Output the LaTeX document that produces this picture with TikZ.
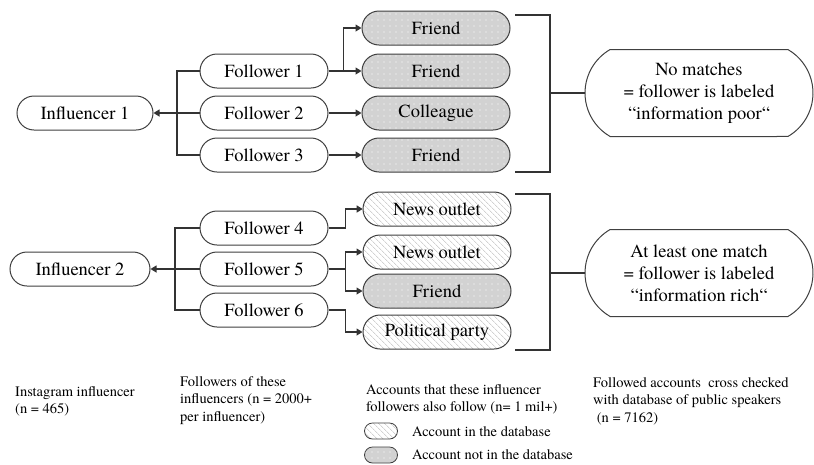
\documentclass[tikz,border=0pt]{standalone}
\usepackage{fontspec}
\IfFontExistsTF{texgyretermes-regular.otf}
  {\setmainfont{texgyretermes-regular.otf}}
  {\setmainfont{Liberation Serif}}
\usetikzlibrary{shapes.misc,arrows.meta,patterns.meta}

\begin{document}
\begin{tikzpicture}[x=1pt,y=-1pt,
    box/.style={rounded rectangle,draw=black!75,line width=1pt,minimum height=34pt,
      inner sep=0pt,font=\rmfamily\fontsize{18.5}{22}\selectfont},
    person/.style={box,minimum width=128pt},
    friendbox/.style={box,minimum width=148pt,preaction={fill=gray!35},
      pattern={Dots[distance=6pt,radius=0.6pt]},pattern color=white},
    newsbox/.style={box,minimum width=148pt,
      pattern={Lines[angle=-45,distance=4pt,line width=0.6pt]},pattern color=gray!55},
    outcome/.style={box,rounded rectangle arc length=120,minimum width=228pt,
      minimum height=87pt,align=center},
    link/.style={draw=black!80,line width=1.1pt},
    arr/.style={link,-{Triangle[length=6pt,width=7pt]}},
    note/.style={anchor=north west,inner sep=0pt,align=left,
      font=\rmfamily\fontsize{14.5}{17.5}\selectfont}]

  % Canvas
  \fill[white] (0,0) rectangle (814,464);
  \useasboundingbox (0,0) rectangle (814,464);

  % Influencer 1 and followers
  \node[box,minimum width=136pt] (inf1) at (85,113) {Influencer 1};
  \node[person] (f1) at (264,71) {Follower 1};
  \node[person] (f2) at (264,113) {Follower 2};
  \node[person] (f3) at (264,155) {Follower 3};
  \node[friendbox] (a1) at (436,28) {Friend};
  \node[friendbox] (a2) at (436,71) {Friend};
  \node[friendbox] (a3) at (436,113) {Colleague};
  \node[friendbox] (a4) at (436,155) {Friend};
  \node[outcome] (out1) at (699,93)
    {No matches\\= follower is labeled\\“information poor“};

  % Influencer 2 and followers
  \node[box,minimum width=140pt] (inf2) at (80,269) {Influencer 2};
  \node[person] (f4) at (264,228) {Follower 4};
  \node[person] (f5) at (264,269) {Follower 5};
  \node[person] (f6) at (264,310) {Follower 6};
  \node[newsbox] (a5) at (437,209) {News outlet};
  \node[newsbox] (a6) at (437,252) {News outlet};
  \node[friendbox] (a7) at (437,291) {Friend};
  \node[newsbox] (a8) at (437,332) {Political party};
  \node[outcome] (out2) at (699,273)
    {At least one match\\= follower is labeled\\“information rich“};

  % Connectors, group 1
  \coordinate (b1) at (177,113);
  \draw[link] (f1.west) -| (b1) |- (f3.west);
  \draw[arr] (f2.west) -- (inf1.east);
  \draw[arr] (f1.east) -- ++(15,0) |- (a1.west);
  \draw[arr] (f1.east) -- (a2.west);
  \draw[arr] (f2.east) -- (a3.west);
  \draw[arr] (f3.east) -- (a4.west);

  % Connectors, group 2
  \coordinate (b2) at (175,269);
  \draw[link] (f4.west) -| (b2) |- (f6.west);
  \draw[arr] (f5.west) -- (inf2.east);
  \draw[arr] (f4.east) -- ++(17,0) |- (a5.west);
  \draw[arr] (f5.east) -- ++(17,0) |- (a6.west);
  \draw[arr] (f5.east) -- ++(17,0) |- (a7.west);
  \draw[arr] (f6.east) -- ++(17,0) |- (a8.west);

  % Brackets
  \coordinate (t1) at (515,15);
  \coordinate (k1) at (550,93);
  \coordinate (u1) at (515,172);
  \draw[link] (t1) -| (k1) |- (u1);
  \draw[link] (k1) -- (out1.west);
  \coordinate (t2) at (515,194);
  \coordinate (k2) at (550,273);
  \coordinate (u2) at (515,350);
  \draw[link] (t2) -| (k2) |- (u2);
  \draw[link] (k2) -- (out2.west);

  % Column notes
  \node[note] (n1) at (15,386) {Instagram influencer\\(n = 465)};
  \node[note] (n2) at (180,376) {Followers of these\\influencers (n = 2000+\\per influencer)};
  \node[note] (n3) at (366,384) {Accounts that these influencer\\followers also follow (n= 1 mil+)};
  \node[note] (n4) at (593,377) {Followed accounts\ \ cross checked\\with database of public speakers\\\ (n = 7162)};

  % Legend
  \node[newsbox,minimum width=33pt,minimum height=16pt,line width=0.8pt] (legA) at (381,431) {};
  \node[friendbox,minimum width=33pt,minimum height=16pt,line width=0.8pt] (legB) at (381,455) {};
  \node[note,anchor=west] (legAtxt) at (412,432) {Account in the database};
  \node[note,anchor=west] (legBtxt) at (412,455) {Account not in the database};
\end{tikzpicture}
\end{document}
